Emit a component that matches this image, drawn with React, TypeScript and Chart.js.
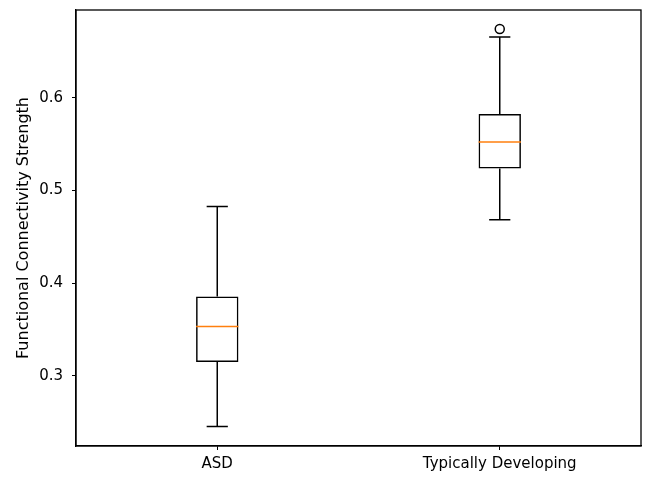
import React, { useEffect, useRef } from "react";
import { Chart, registerables } from "chart.js";

Chart.register(...registerables);

const categories = ["ASD", "Typically Developing"];
const lowerWhisker = [0.2455, 0.4683];
const q1 = [0.3151, 0.5237];
const median = [0.3532, 0.5522];
const q3 = [0.3856, 0.5824];
const upperWhisker = [0.4827, 0.6655];
const outliers = [null, 0.6741];
const yTicks = [0.3, 0.4, 0.5, 0.6];

const FONT = "'DejaVu Sans', sans-serif";
const FS = 15;

const boxPlugin = {
  id: "boxParts",
  afterDatasetsDraw(chart: any) {
    const { ctx, scales, chartArea } = chart;
    const x = scales.x;
    const y = scales.y;
    const meta = chart.getDatasetMeta(0);
    ctx.save();
    categories.forEach((_, i) => {
      const bar = meta.data[i];
      const cx = x.getPixelForValue(i);
      const half = bar.width / 2;
      const capHalf = half / 2;
      ctx.strokeStyle = "#000";
      ctx.lineWidth = 1.5;
      ctx.beginPath();
      ctx.moveTo(cx, y.getPixelForValue(q1[i]));
      ctx.lineTo(cx, y.getPixelForValue(lowerWhisker[i]));
      ctx.moveTo(cx, y.getPixelForValue(q3[i]));
      ctx.lineTo(cx, y.getPixelForValue(upperWhisker[i]));
      ctx.stroke();
      ctx.beginPath();
      const yl = y.getPixelForValue(lowerWhisker[i]);
      const yu = y.getPixelForValue(upperWhisker[i]);
      ctx.moveTo(cx - capHalf, yl);
      ctx.lineTo(cx + capHalf, yl);
      ctx.moveTo(cx - capHalf, yu);
      ctx.lineTo(cx + capHalf, yu);
      ctx.stroke();
      ctx.strokeStyle = "#ff7f0e";
      ctx.lineWidth = 1.5;
      const ym = y.getPixelForValue(median[i]);
      ctx.beginPath();
      ctx.moveTo(cx - half, ym);
      ctx.lineTo(cx + half, ym);
      ctx.stroke();
    });
    ctx.strokeStyle = "#000";
    ctx.lineWidth = 1.3;
    ctx.strokeRect(
      chartArea.left,
      chartArea.top,
      chartArea.right - chartArea.left,
      chartArea.bottom - chartArea.top
    );
    ctx.restore();
  },
};

export default function App() {
  const ref = useRef<HTMLCanvasElement>(null);
  useEffect(() => {
    if (!ref.current) return;
    const chart = new Chart(ref.current, {
      type: "bar",
      data: {
        labels: categories,
        datasets: [
          {
            type: "bar",
            data: categories.map((_, i) => [q1[i], q3[i]]) as any,
            backgroundColor: "rgba(255,255,255,0)",
            borderColor: "#000",
            borderWidth: 1.5,
            borderSkipped: false,
            barPercentage: 0.15,
            categoryPercentage: 1,
          },
          {
            type: "line",
            data: outliers as any,
            showLine: false,
            pointRadius: 4.5,
            pointBackgroundColor: "#fff",
            pointBorderColor: "#000",
            pointBorderWidth: 1.5,
          },
        ],
      },
      options: {
        animation: false,
        responsive: false,
        maintainAspectRatio: false,
        layout: { padding: { left: 0, top: 10, right: 0, bottom: 0 } },
        plugins: { legend: { display: false }, tooltip: { enabled: false } },
        scales: {
          x: {
            offset: true,
            grid: {
              display: true,
              offset: false,
              drawOnChartArea: false,
              drawTicks: true,
              tickLength: 4,
              color: "#000",
            },
            border: { display: true, color: "#000", width: 1.3 },
            ticks: {
              color: "#000",
              font: { family: FONT, size: FS },
              padding: 5,
            },
            afterFit(scale: any) {
              scale.height = 31;
              scale.paddingLeft = 0;
              scale.paddingRight = 0;
            },
          },
          y: {
            min: 0.2245,
            max: 0.6945,
            afterBuildTicks(scale: any) {
              scale.ticks = yTicks.map((v) => ({ value: v }));
            },
            grid: {
              display: true,
              drawOnChartArea: false,
              drawTicks: true,
              tickLength: 4,
              color: "#000",
            },
            border: { display: true, color: "#000", width: 1.3 },
            ticks: {
              color: "#000",
              font: { family: FONT, size: FS },
              padding: 9,
              callback: (v: any) => Number(v).toFixed(1),
            },
            title: {
              display: true,
              text: "Functional Connectivity Strength",
              color: "#000",
              font: { family: FONT, size: 16 },
              padding: { top: 14, bottom: 0 },
            },
            afterFit(scale: any) {
              scale.width = 76;
              scale.paddingTop = 0;
              scale.paddingBottom = 0;
            },
          },
        },
      },
      plugins: [boxPlugin],
    });
    return () => chart.destroy();
  }, []);
  return (
    <div style={{ position: "fixed", left: 0, top: 0, width: 647, height: 477, background: "#fff" }}>
      <canvas ref={ref} width={647} height={477} style={{ width: 647, height: 477 }} />
    </div>
  );
}
